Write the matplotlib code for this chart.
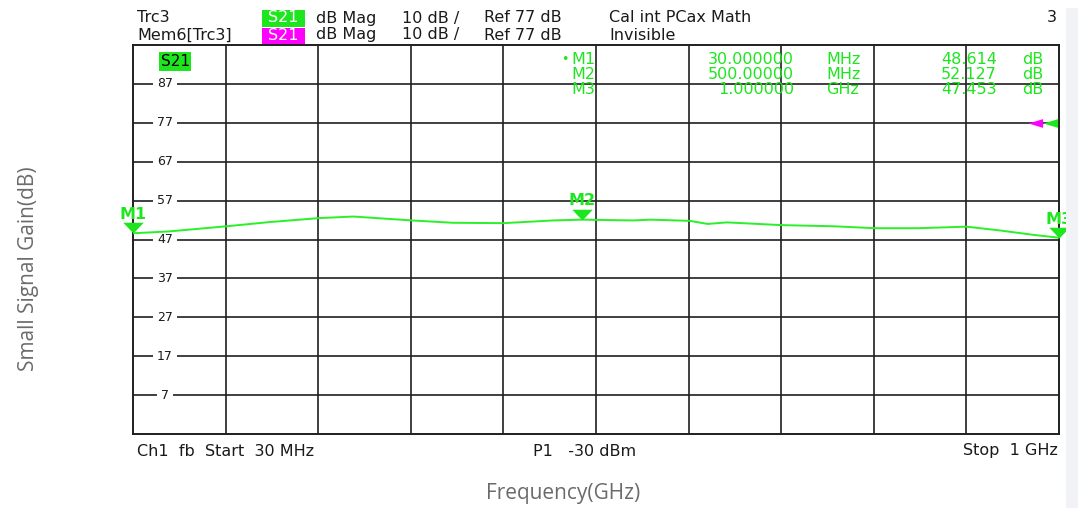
import matplotlib
matplotlib.use("Agg")
import matplotlib.pyplot as plt
from matplotlib.patches import Rectangle
from matplotlib.path import Path

# ---------------- data ----------------
freq_mhz = [30, 69, 128, 174, 225, 261, 322, 365, 418, 470, 500, 554, 572,
            613, 632, 652, 709, 764, 807, 852, 903, 939, 973, 1000]
gain_db = [48.6, 49.1, 50.4, 51.5, 52.5, 52.9, 51.9, 51.3, 51.2, 51.9, 52.1,
           51.9, 52.1, 51.8, 51.0, 51.4, 50.7, 50.4, 49.9, 49.9, 50.3, 49.3,
           48.2, 47.45]
marker_names = ["M1", "M2", "M3"]
marker_freq = [30, 500, 1000]
marker_gain = [48.614, 52.127, 47.453]
marker_freq_text = ["30.000000", "500.00000", "1.000000"]
marker_unit_text = ["MHz", "MHz", "GHz"]
marker_gain_text = ["48.614", "52.127", "47.453"]
y_tick_labels = [87, 77, 67, 57, 47, 37, 27, 17, 7]
ref_level = 77
x_start, x_stop = 30, 1000
y_bottom, y_top = -3, 97

# ---------------- style ----------------
W, H = 1078, 508
GREEN = "#1ee61e"
TRACE = "#2af02a"
MAGENTA = "#ff00ff"
GRID = "#1f1f1f"
TXT = "#1a1a1a"
LABEL_GRAY = "#6b6b6b"
INST_FONT = "DejaVu Sans"

fig = plt.figure(figsize=(W / 100, H / 100), dpi=100)
fig.patch.set_facecolor("white")


def fx(x):
    return x / W


def fy(y):
    return 1 - y / H


def ftext(x, y, s, **kw):
    kw.setdefault("va", "center")
    kw.setdefault("ha", "left")
    kw.setdefault("fontsize", 11.5)
    kw.setdefault("color", TXT)
    kw.setdefault("family", INST_FONT)
    return fig.text(fx(x), fy(y), s, **kw)


# faint background strip on the right (watermark area)
fig.patches.append(Rectangle((fx(1066), 0), fx(12), fy(8), transform=fig.transFigure,
                             facecolor="#f1f3f6", edgecolor="none", zorder=0))

# ---------------- axes ----------------
L, R, T, B = 133, 1059, 45, 434
ax = fig.add_axes([fx(L), fy(B), fx(R - L), (B - T) / H])
ax.set_xlim(x_start, x_stop)
ax.set_ylim(y_bottom, y_top)
ax.set_xticks([])
ax.set_yticks([])
for sp in ax.spines.values():
    sp.set_color(GRID)
    sp.set_linewidth(1.4)

step = (x_stop - x_start) / 10
for i in range(1, 10):
    ax.axvline(x_start + i * step, color=GRID, lw=1.2, zorder=1)
for v in y_tick_labels:
    ax.axhline(v, color=GRID, lw=1.2, zorder=1)
    ax.text(0.0345, v, str(v), transform=ax.get_yaxis_transform(), ha="center",
            va="center", fontsize=9, color=TXT, family=INST_FONT, zorder=3,
            bbox=dict(boxstyle="square,pad=0.3", facecolor="white", edgecolor="none"))

# trace
ax.plot(freq_mhz, gain_db, color=TRACE, lw=1.4, zorder=4)

# marker triangles (tip at the trace point)
tri_down = Path([(-1, 1.05), (1, 1.05), (0, 0), (-1, 1.05)],
                [Path.MOVETO, Path.LINETO, Path.LINETO, Path.CLOSEPOLY])
for name, f, g in zip(marker_names, marker_freq, marker_gain):
    ax.plot([f], [g], marker=tri_down, markersize=15.5, color=GREEN,
            markeredgewidth=0, clip_on=False, zorder=5, linestyle="none")
    ax.annotate(name, (f, g), xytext=(0, 8.0), textcoords="offset points",
                ha="center", va="bottom", fontsize=11.5, fontweight="bold",
                color=GREEN, family=INST_FONT, annotation_clip=False, zorder=6)

# reference level indicators at the right edge
tri_left = Path([(0, 0), (1, 0.3), (1, -0.3), (0, 0)],
                [Path.MOVETO, Path.LINETO, Path.LINETO, Path.CLOSEPOLY])
ax.plot([(1028 - L) / (R - L)], [ref_level], marker=tri_left, markersize=21,
        color=MAGENTA, markeredgewidth=0, transform=ax.get_yaxis_transform(),
        clip_on=False, zorder=5, linestyle="none")
ax.plot([(1043 - L) / (R - L)], [ref_level], marker=tri_left, markersize=21,
        color=GREEN, markeredgewidth=0, transform=ax.get_yaxis_transform(),
        clip_on=False, zorder=6, linestyle="none")

# S21 tag inside plot
ftext(175, 61.5, "S21", ha="center", fontsize=11, color="black",
      bbox=dict(boxstyle="square,pad=0.1", facecolor=GREEN, edgecolor="none"), zorder=7)

# marker table
rows_y = [60, 74.5, 89]
for k, yy in enumerate(rows_y):
    if k == 0:
        ftext(561, yy, "\u2022", color=GREEN, fontsize=9)
    ftext(571, yy, marker_names[k], color=GREEN, zorder=7)
    ftext(794, yy, marker_freq_text[k], ha="right", color=GREEN, zorder=7)
    ftext(826, yy, marker_unit_text[k], color=GREEN, zorder=7)
    ftext(997, yy, marker_gain_text[k], ha="right", color=GREEN, zorder=7)
    ftext(1022, yy, "dB", color=GREEN, zorder=7)

# ---------------- header ----------------
row1, row2 = 18, 35
ftext(137, row1, "Trc3")
ftext(137, row2, "Mem6[Trc3]")
fig.patches.append(Rectangle((fx(262), fy(26.5)), fx(43), 16.5 / H, transform=fig.transFigure,
                             facecolor=GREEN, edgecolor="none"))
fig.patches.append(Rectangle((fx(262), fy(43.5)), fx(43), 15.5 / H, transform=fig.transFigure,
                             facecolor=MAGENTA, edgecolor="none"))
ftext(283.5, row1, "S21", ha="center", color="white")
ftext(283.5, row2, "S21", ha="center", color="white")
for yy in (row1, row2):
    ftext(316, yy, "dB Mag")
    ftext(402, yy, "10 dB /")
    ftext(484, yy, "Ref 77 dB")
ftext(609, row1, "Cal int PCax Math")
ftext(609, row2, "Invisible")
ftext(1057, row1, "3", ha="right")

# ---------------- footer ----------------
ftext(137, 451, "Ch1  fb  Start  30 MHz")
ftext(533, 451, "P1   -30 dBm")
ftext(1058, 451, "Stop  1 GHz", ha="right")

# ---------------- axis titles ----------------
fig.text(fx(29), fy(269), "Small Signal Gain(dB)", rotation=90, ha="center",
         va="center", fontsize=15, color=LABEL_GRAY, family="Open Sans")
fig.text(fx(563), fy(494), "Frequency(GHz)", ha="center", va="center",
         fontsize=15, color=LABEL_GRAY, family="Open Sans")

fig.savefig("out.png", dpi=100, facecolor="white")
